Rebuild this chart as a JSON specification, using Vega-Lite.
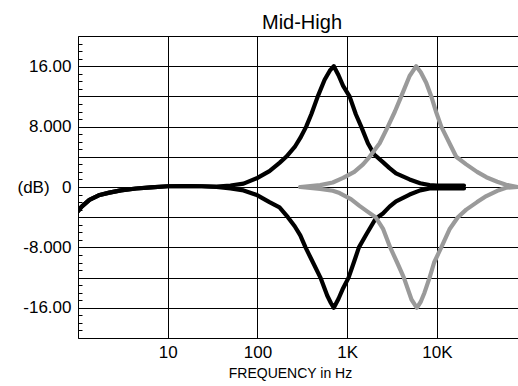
{
  "$schema": "https://vega.github.io/schema/vega-lite/v6.json",
  "width": 440,
  "height": 302,
  "autosize": {"type": "none"},
  "padding": {"left": 78, "top": 36, "right": 0, "bottom": 48},
  "background": "white",
  "config": {"view": {"stroke": null}, "font": "Liberation Sans"},
  "title": {"text": "Mid-High", "fontSize": 20, "fontWeight": "normal", "color": "black", "font": "Liberation Sans", "frame": "group", "anchor": "middle", "baseline": "alphabetic", "offset": 10, "dx": 4, "dy": 23},
  "datasets": {
    "curves": [
      {"s": "b1", "c": "black", "f": 1, "db": -3.2}, {"s": "b1", "c": "black", "f": 1.1, "db": -2.6}, {"s": "b1", "c": "black", "f": 1.34, "db": -1.7}, {"s": "b1", "c": "black", "f": 1.7, "db": -1.1}, {"s": "b1", "c": "black", "f": 2.24, "db": -0.75}, {"s": "b1", "c": "black", "f": 3, "db": -0.45}, {"s": "b1", "c": "black", "f": 4.45, "db": -0.2}, {"s": "b1", "c": "black", "f": 6.5, "db": -0.05}, {"s": "b1", "c": "black", "f": 10, "db": 0.1}, {"s": "b1", "c": "black", "f": 16, "db": 0.12}, {"s": "b1", "c": "black", "f": 24, "db": 0.1}, {"s": "b1", "c": "black", "f": 35, "db": 0.05},
      {"s": "b1", "c": "black", "f": 50, "db": 0.2}, {"s": "b1", "c": "black", "f": 70, "db": 0.45}, {"s": "b1", "c": "black", "f": 100, "db": 1.2}, {"s": "b1", "c": "black", "f": 136, "db": 2.1}, {"s": "b1", "c": "black", "f": 176, "db": 3.2}, {"s": "b1", "c": "black", "f": 209, "db": 4}, {"s": "b1", "c": "black", "f": 260, "db": 5.3}, {"s": "b1", "c": "black", "f": 300, "db": 6.5}, {"s": "b1", "c": "black", "f": 349, "db": 8}, {"s": "b1", "c": "black", "f": 400, "db": 9.7}, {"s": "b1", "c": "black", "f": 470, "db": 12}, {"s": "b1", "c": "black", "f": 560, "db": 14.2}, {"s": "b1", "c": "black", "f": 640, "db": 15.4}, {"s": "b1", "c": "black", "f": 709, "db": 16}, {"s": "b1", "c": "black", "f": 800, "db": 14.8}, {"s": "b1", "c": "black", "f": 900, "db": 13.4}, {"s": "b1", "c": "black", "f": 1062, "db": 12}, {"s": "b1", "c": "black", "f": 1250, "db": 9.6}, {"s": "b1", "c": "black", "f": 1432, "db": 8}, {"s": "b1", "c": "black", "f": 1700, "db": 5.8}, {"s": "b1", "c": "black", "f": 2000, "db": 4.3}, {"s": "b1", "c": "black", "f": 2500, "db": 3.3}, {"s": "b1", "c": "black", "f": 2964, "db": 2.5}, {"s": "b1", "c": "black", "f": 3500, "db": 1.8}, {"s": "b1", "c": "black", "f": 4955, "db": 1.0}, {"s": "b1", "c": "black", "f": 6500, "db": 0.5}, {"s": "b1", "c": "black", "f": 8280, "db": 0.25}, {"s": "b1", "c": "black", "f": 10000, "db": 0.2}, {"s": "b1", "c": "black", "f": 14000, "db": 0.2}, {"s": "b1", "c": "black", "f": 20000, "db": 0.2},
      {"s": "b2", "c": "black", "f": 1, "db": -3.2}, {"s": "b2", "c": "black", "f": 1.1, "db": -2.6}, {"s": "b2", "c": "black", "f": 1.34, "db": -1.7}, {"s": "b2", "c": "black", "f": 1.7, "db": -1.1}, {"s": "b2", "c": "black", "f": 2.24, "db": -0.75}, {"s": "b2", "c": "black", "f": 3, "db": -0.45}, {"s": "b2", "c": "black", "f": 4.45, "db": -0.2}, {"s": "b2", "c": "black", "f": 6.5, "db": -0.05}, {"s": "b2", "c": "black", "f": 10, "db": 0.1}, {"s": "b2", "c": "black", "f": 16, "db": 0.12}, {"s": "b2", "c": "black", "f": 24, "db": 0.1}, {"s": "b2", "c": "black", "f": 35, "db": 0.0},
      {"s": "b2", "c": "black", "f": 50, "db": -0.2}, {"s": "b2", "c": "black", "f": 70, "db": -0.45}, {"s": "b2", "c": "black", "f": 100, "db": -1.1}, {"s": "b2", "c": "black", "f": 136, "db": -2.0}, {"s": "b2", "c": "black", "f": 176, "db": -2.7}, {"s": "b2", "c": "black", "f": 218, "db": -4}, {"s": "b2", "c": "black", "f": 260, "db": -5.2}, {"s": "b2", "c": "black", "f": 300, "db": -6.4}, {"s": "b2", "c": "black", "f": 343, "db": -8}, {"s": "b2", "c": "black", "f": 400, "db": -9.6}, {"s": "b2", "c": "black", "f": 503, "db": -12}, {"s": "b2", "c": "black", "f": 600, "db": -14.4}, {"s": "b2", "c": "black", "f": 660, "db": -15.4}, {"s": "b2", "c": "black", "f": 709, "db": -16}, {"s": "b2", "c": "black", "f": 800, "db": -14.8}, {"s": "b2", "c": "black", "f": 900, "db": -13.4}, {"s": "b2", "c": "black", "f": 1036, "db": -12}, {"s": "b2", "c": "black", "f": 1200, "db": -9.8}, {"s": "b2", "c": "black", "f": 1350, "db": -8}, {"s": "b2", "c": "black", "f": 1630, "db": -6.3}, {"s": "b2", "c": "black", "f": 2070, "db": -4.2}, {"s": "b2", "c": "black", "f": 2500, "db": -3.5}, {"s": "b2", "c": "black", "f": 2964, "db": -2.6}, {"s": "b2", "c": "black", "f": 3500, "db": -1.9}, {"s": "b2", "c": "black", "f": 4955, "db": -1.0}, {"s": "b2", "c": "black", "f": 6500, "db": -0.45}, {"s": "b2", "c": "black", "f": 8280, "db": -0.2}, {"s": "b2", "c": "black", "f": 10000, "db": -0.2}, {"s": "b2", "c": "black", "f": 14000, "db": -0.2}, {"s": "b2", "c": "black", "f": 20000, "db": -0.2},
      {"s": "g1", "c": "gray", "f": 300, "db": 0}, {"s": "g1", "c": "gray", "f": 500, "db": 0.25}, {"s": "g1", "c": "gray", "f": 690, "db": 0.6}, {"s": "g1", "c": "gray", "f": 900, "db": 1.2}, {"s": "g1", "c": "gray", "f": 1200, "db": 2.0}, {"s": "g1", "c": "gray", "f": 1500, "db": 3.0}, {"s": "g1", "c": "gray", "f": 1775, "db": 4}, {"s": "g1", "c": "gray", "f": 2300, "db": 5.8}, {"s": "g1", "c": "gray", "f": 2838, "db": 8}, {"s": "g1", "c": "gray", "f": 3400, "db": 10}, {"s": "g1", "c": "gray", "f": 4000, "db": 12}, {"s": "g1", "c": "gray", "f": 4955, "db": 14.7}, {"s": "g1", "c": "gray", "f": 5870, "db": 16}, {"s": "g1", "c": "gray", "f": 6600, "db": 15.2}, {"s": "g1", "c": "gray", "f": 7590, "db": 13.8}, {"s": "g1", "c": "gray", "f": 8650, "db": 12}, {"s": "g1", "c": "gray", "f": 9810, "db": 9.9}, {"s": "g1", "c": "gray", "f": 11170, "db": 8}, {"s": "g1", "c": "gray", "f": 13800, "db": 5.8}, {"s": "g1", "c": "gray", "f": 16400, "db": 4}, {"s": "g1", "c": "gray", "f": 21200, "db": 3.0}, {"s": "g1", "c": "gray", "f": 28000, "db": 2.0}, {"s": "g1", "c": "gray", "f": 35500, "db": 1.3}, {"s": "g1", "c": "gray", "f": 47000, "db": 0.7}, {"s": "g1", "c": "gray", "f": 58900, "db": 0.3}, {"s": "g1", "c": "gray", "f": 79000, "db": 0}, {"s": "g1", "c": "gray", "f": 100000, "db": 0},
      {"s": "g2", "c": "gray", "f": 300, "db": 0}, {"s": "g2", "c": "gray", "f": 500, "db": -0.25}, {"s": "g2", "c": "gray", "f": 690, "db": -0.5}, {"s": "g2", "c": "gray", "f": 822, "db": -0.8}, {"s": "g2", "c": "gray", "f": 1100, "db": -1.6}, {"s": "g2", "c": "gray", "f": 1371, "db": -2.5}, {"s": "g2", "c": "gray", "f": 1700, "db": -3.3}, {"s": "g2", "c": "gray", "f": 2070, "db": -4}, {"s": "g2", "c": "gray", "f": 2500, "db": -5.5}, {"s": "g2", "c": "gray", "f": 3013, "db": -8}, {"s": "g2", "c": "gray", "f": 3600, "db": -10}, {"s": "g2", "c": "gray", "f": 4276, "db": -12}, {"s": "g2", "c": "gray", "f": 5200, "db": -14.9}, {"s": "g2", "c": "gray", "f": 5970, "db": -16}, {"s": "g2", "c": "gray", "f": 6600, "db": -15.2}, {"s": "g2", "c": "gray", "f": 7260, "db": -14}, {"s": "g2", "c": "gray", "f": 8280, "db": -12}, {"s": "g2", "c": "gray", "f": 9300, "db": -10}, {"s": "g2", "c": "gray", "f": 11170, "db": -8}, {"s": "g2", "c": "gray", "f": 13800, "db": -5.6}, {"s": "g2", "c": "gray", "f": 17100, "db": -4}, {"s": "g2", "c": "gray", "f": 21200, "db": -3.0}, {"s": "g2", "c": "gray", "f": 28000, "db": -2.0}, {"s": "g2", "c": "gray", "f": 35500, "db": -1.2}, {"s": "g2", "c": "gray", "f": 47000, "db": -0.5}, {"s": "g2", "c": "gray", "f": 58900, "db": -0.1}, {"s": "g2", "c": "gray", "f": 79000, "db": 0}, {"s": "g2", "c": "gray", "f": 100000, "db": 0}
    ]
  },
  "data": {"name": "curves"},
  "layer": [
    {
      "mark": {"type": "line", "strokeWidth": 4.2, "strokeCap": "round", "strokeJoin": "round", "clip": true},
      "encoding": {
        "x": {"field": "f", "type": "quantitative", "scale": {"type": "log", "domain": [1, 80000], "nice": false},
          "axis": {"orient": "bottom", "values": [10, 100, 1000, 10000], "labelExpr": "datum.value==10?'10':datum.value==100?'100':datum.value==1000?'1K':'10K'",
            "grid": true, "gridColor": "black", "gridOpacity": 1, "gridWidth": 1, "ticks": false, "tickSize": 0, "labelPadding": 6,
            "labelFontSize": 17, "labelColor": "black", "labelFont": "Liberation Sans", "labelFlush": false, "labelOverlap": false,
            "domain": true, "domainColor": "black", "domainWidth": 1,
            "title": "FREQUENCY in Hz", "titleFont": "Liberation Sans", "titleFontSize": 14, "titleFontWeight": "normal", "titleColor": "black",
            "titleX": 212, "titleY": 39, "titleAlign": "center", "titleBaseline": "alphabetic"}},
        "y": {"field": "db", "type": "quantitative", "scale": {"domain": [-20, 20], "nice": false, "zero": false},
          "axis": {"orient": "left", "values": [-16, -12, -8, -4, 0, 4, 8, 12, 16],
            "labelExpr": "datum.value==16?'16.00':datum.value==8?'8.000':datum.value==0?'0':datum.value==-8?'-8.000':datum.value==-16?'-16.00':''",
            "grid": true, "gridColor": "black", "gridOpacity": 1, "gridWidth": 1, "ticks": false, "tickSize": 0, "labelPadding": 7,
            "labelFontSize": 17, "labelColor": "black", "labelFont": "Liberation Sans", "labelOverlap": false, "labelFlush": false,
            "domain": true, "domainColor": "black", "domainWidth": 1,
            "title": "(dB)", "titleAngle": 0, "titleX": -61, "titleY": 151.5, "titleAlign": "left", "titleBaseline": "middle",
            "titleFont": "Liberation Sans", "titleFontSize": 17, "titleFontWeight": "normal", "titleColor": "black"}},
        "color": {"field": "c", "type": "nominal", "scale": {"domain": ["black", "gray"], "range": ["#000000", "#9a9a9a"]}, "legend": null},
        "detail": {"field": "s"}
      }
    },
    {
      "mark": {"type": "line", "opacity": 0, "clip": true},
      "encoding": {
        "x": {"field": "f", "type": "quantitative", "axis": {"orient": "top", "labels": false, "ticks": false, "grid": false, "domain": true, "domainColor": "black", "domainWidth": 1, "title": null}},
        "y": {"field": "db", "type": "quantitative",
          "axis": {"orient": "left", "values": [-20, -19, -18, -17, -16, -15, -14, -13, -12, -11, -10, -9, -8, -7, -6, -5, -4, -3, -2, -1, 0, 1, 2, 3, 4, 5, 6, 7, 8, 9, 10, 11, 12, 13, 14, 15, 16, 17, 18, 19, 20],
            "labels": false, "grid": false, "domain": false, "ticks": true, "tickSize": -4, "tickColor": "black", "tickWidth": 1, "title": null}},
        "detail": {"field": "s"}
      }
    }
  ],
  "resolve": {"axis": {"x": "independent", "y": "independent"}}
}
